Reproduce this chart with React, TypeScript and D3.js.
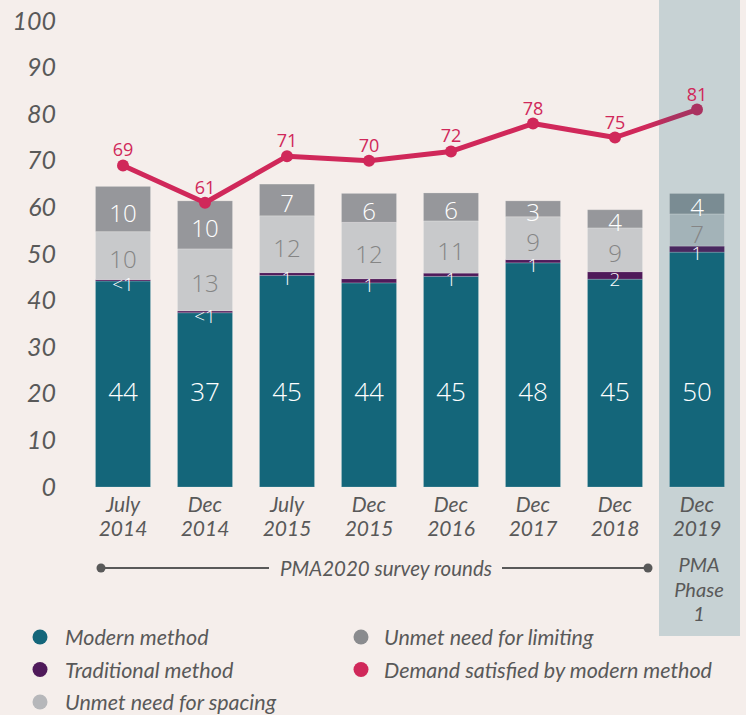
import { useEffect, useRef } from "react";
import * as d3 from "d3";

const rounds = ["July 2014", "Dec 2014", "July 2015", "Dec 2015", "Dec 2016", "Dec 2017", "Dec 2018", "Dec 2019"];
const modern = [44.2, 37.4, 45.4, 43.8, 45.2, 48.1, 44.6, 50.4];
const traditional = [0.3, 0.4, 0.6, 0.9, 0.7, 0.7, 1.6, 1.3];
const spacing = [10.3, 13.3, 12.2, 12.1, 11.2, 9.2, 9.4, 6.9];
const limiting = [9.7, 10.3, 6.8, 6.2, 6.0, 3.4, 3.9, 4.4];
const demand = [69, 61, 71, 70, 72, 78, 75, 81];
const yTicks = [0, 10, 20, 30, 40, 50, 60, 70, 80, 90, 100];
const phaseRound = "Dec 2019";

const W = 746;
const H = 715;
const BG = "#f5eeeb";
const SHADE = "#c7d2d4";
const CRIMSON = "#d0285a";
const CRIMSON_DARK = "#aa3260";
const TEXT = "#595959";
const AXIS_FONT = "Lato, 'DejaVu Sans', sans-serif";
const NUM_FONT = "'Open Sans', sans-serif";

const series = [
  { key: "modern", values: modern, color: "#14667a", phaseColor: "#14667a", label: "#fff" },
  { key: "traditional", values: traditional, color: "#4f1a5a", phaseColor: "#48285f", label: "#fff" },
  { key: "spacing", values: spacing, color: "#c8c9cb", phaseColor: "#a3b3b8", label: "#858585" },
  { key: "limiting", values: limiting, color: "#96979b", phaseColor: "#7a8c93", label: "#fff" },
];

const legend = [
  { name: "Modern method", color: "#14667a", col: 0, row: 0 },
  { name: "Traditional method", color: "#4f1a5a", col: 0, row: 1 },
  { name: "Unmet need for spacing", color: "#b6b7ba", col: 0, row: 2 },
  { name: "Unmet need for limiting", color: "#8a8b8e", col: 1, row: 0 },
  { name: "Demand satisfied by modern method", color: CRIMSON, col: 1, row: 1 },
];

function fmt(v: number): string {
  return v < 0.5 ? "<1" : String(Math.round(v));
}

function draw(): SVGSVGElement {
  const x = d3.scaleBand<string>().domain(rounds).range([82, 738]).paddingInner(0.329).paddingOuter(0.1645);
  const y = d3.scaleLinear().domain([0, 100]).range([487, 21]);
  const cx = (r: string) => (x(r) as number) + x.bandwidth() / 2;
  const shadeX0 = cx(phaseRound) - 38;
  const shadeX1 = cx(phaseRound) + 43;

  const svg = d3
    .create("svg")
    .attr("width", W)
    .attr("height", H)
    .attr("viewBox", [0, 0, W, H])
    .style("display", "block");

  svg.append("rect").attr("width", W).attr("height", H).attr("fill", BG);
  svg.append("rect").attr("x", shadeX0).attr("y", 0).attr("width", shadeX1 - shadeX0).attr("height", 636).attr("fill", SHADE);

  // y axis
  const yAxis = svg
    .append("g")
    .attr("transform", "translate(66,0)")
    .call(d3.axisLeft(y).tickValues(yTicks).tickSize(0).tickPadding(10));
  yAxis.select(".domain").remove();
  yAxis
    .selectAll("text")
    .attr("font-family", AXIS_FONT)
    .attr("font-style", "italic")
    .attr("font-size", 25)
    .attr("fill", TEXT);

  // stacked bars
  const stack = rounds.map((r, i) => {
    let base = 0;
    return series.map((s) => {
      const seg = { round: r, key: s.key, y0: base, y1: base + s.values[i], v: s.values[i], s };
      base += s.values[i];
      return seg;
    });
  });

  const bars = svg.append("g");
  stack.forEach((segs) => {
    bars
      .selectAll(null)
      .data(segs)
      .join("rect")
      .attr("x", (d) => x(d.round) as number)
      .attr("width", x.bandwidth())
      .attr("y", (d) => y(d.y1))
      .attr("height", (d) => y(d.y0) - y(d.y1))
      .attr("fill", (d) => (d.round === phaseRound ? d.s.phaseColor : d.s.color))
      .attr("stroke", "#ffffff")
      .attr("stroke-opacity", 0.18)
      .attr("stroke-width", 1);
  });

  // demand line
  const defs = svg.append("defs");
  const grad = defs
    .append("linearGradient")
    .attr("id", "demandGrad")
    .attr("gradientUnits", "userSpaceOnUse")
    .attr("x1", 0)
    .attr("x2", W)
    .attr("y1", 0)
    .attr("y2", 0);
  grad.append("stop").attr("offset", (shadeX0 - 12) / W).attr("stop-color", CRIMSON);
  grad.append("stop").attr("offset", (shadeX0 + 14) / W).attr("stop-color", CRIMSON_DARK);

  const line = d3
    .line<number>()
    .x((_, i) => cx(rounds[i]))
    .y((d) => y(d));

  svg
    .append("path")
    .attr("d", line(demand))
    .attr("fill", "none")
    .attr("stroke", "url(#demandGrad)")
    .attr("stroke-width", 5)
    .attr("stroke-linejoin", "round");

  svg
    .append("g")
    .selectAll("circle")
    .data(demand)
    .join("circle")
    .attr("cx", (_, i) => cx(rounds[i]))
    .attr("cy", (d) => y(d))
    .attr("r", 6)
    .attr("fill", (_, i) => (rounds[i] === phaseRound ? CRIMSON_DARK : CRIMSON));

  svg
    .append("g")
    .selectAll("text")
    .data(demand)
    .join("text")
    .attr("x", (_, i) => cx(rounds[i]))
    .attr("y", (d) => y(d) - 16)
    .attr("text-anchor", "middle")
    .attr("dominant-baseline", "central")
    .attr("font-family", NUM_FONT)
    .attr("font-size", 18)
    .attr("fill", CRIMSON)
    .text((d) => d);

  // segment labels
  const labels = svg.append("g").attr("font-family", NUM_FONT).attr("text-anchor", "middle").attr("dominant-baseline", "central");
  stack.forEach((segs) => {
    labels
      .selectAll(null)
      .data(segs)
      .join("text")
      .attr("x", (d) => cx(d.round))
      .attr("y", (d) => {
        if (d.key === "modern") return y(20.6);
        if (d.key === "traditional") return y((d.y0 + d.y1) / 2) + 4;
        return y((d.y0 + d.y1) / 2) + 3;
      })
      .attr("font-size", (d) => (d.key === "modern" ? 26 : d.key === "traditional" ? 19 : 24))
      .attr("font-weight", 300)
      .attr("fill", (d) => d.s.label)
      .text((d) => fmt(d.v));
  });

  // x labels
  const xl = svg
    .append("g")
    .attr("font-family", AXIS_FONT)
    .attr("font-style", "italic")
    .attr("font-size", 21)
    .attr("fill", TEXT)
    .attr("text-anchor", "middle");
  rounds.forEach((r) => {
    const [m, yr] = r.split(" ");
    xl.append("text").attr("x", cx(r)).attr("y", 512).text(m);
    xl.append("text").attr("x", cx(r)).attr("y", 536).text(yr);
  });

  // survey rounds bracket
  const bracket = svg.append("g");
  const lx0 = cx(rounds[0]) - 22;
  const lx1 = cx(rounds[6]) + 33;
  const ly = 568;
  bracket.append("line").attr("x1", lx0).attr("x2", 269).attr("y1", ly).attr("y2", ly).attr("stroke", TEXT).attr("stroke-width", 2);
  bracket.append("line").attr("x1", 502).attr("x2", lx1).attr("y1", ly).attr("y2", ly).attr("stroke", TEXT).attr("stroke-width", 2);
  bracket.append("circle").attr("cx", lx0).attr("cy", ly).attr("r", 4.5).attr("fill", TEXT);
  bracket.append("circle").attr("cx", lx1).attr("cy", ly).attr("r", 4.5).attr("fill", TEXT);
  bracket
    .append("text")
    .attr("x", 386)
    .attr("y", ly)
    .attr("dominant-baseline", "central")
    .attr("text-anchor", "middle")
    .attr("font-family", AXIS_FONT)
    .attr("font-style", "italic")
    .attr("font-size", 20.5)
    .attr("fill", TEXT)
    .text("PMA2020 survey rounds");

  const phase = svg
    .append("g")
    .attr("font-family", AXIS_FONT)
    .attr("font-style", "italic")
    .attr("font-size", 20)
    .attr("fill", TEXT)
    .attr("text-anchor", "middle");
  ["PMA", "Phase", "1"].forEach((t, i) => {
    phase.append("text").attr("x", cx(phaseRound) + 2).attr("y", 572 + i * 24.5).text(t);
  });

  // legend
  const lg = svg
    .append("g")
    .selectAll("g")
    .data(legend)
    .join("g")
    .attr("transform", (d) => `translate(${d.col === 0 ? 40 : 361},${637 + d.row * 32.5})`);
  lg.append("circle").attr("r", 7.5).attr("fill", (d) => d.color);
  lg.append("text")
    .attr("x", (d) => (d.col === 0 ? 25 : 23))
    .attr("dominant-baseline", "central")
    .attr("font-family", AXIS_FONT)
    .attr("font-style", "italic")
    .attr("font-size", 21.5)
    .attr("fill", TEXT)
    .text((d) => d.name);

  return svg.node() as SVGSVGElement;
}

export default function App() {
  const ref = useRef<HTMLDivElement>(null);

  useEffect(() => {
    const node = draw();
    if (ref.current) {
      ref.current.innerHTML = "";
      ref.current.appendChild(node);
    }
  }, []);

  return <div ref={ref} style={{ position: "absolute", left: 0, top: 0 }}></div>;
}
